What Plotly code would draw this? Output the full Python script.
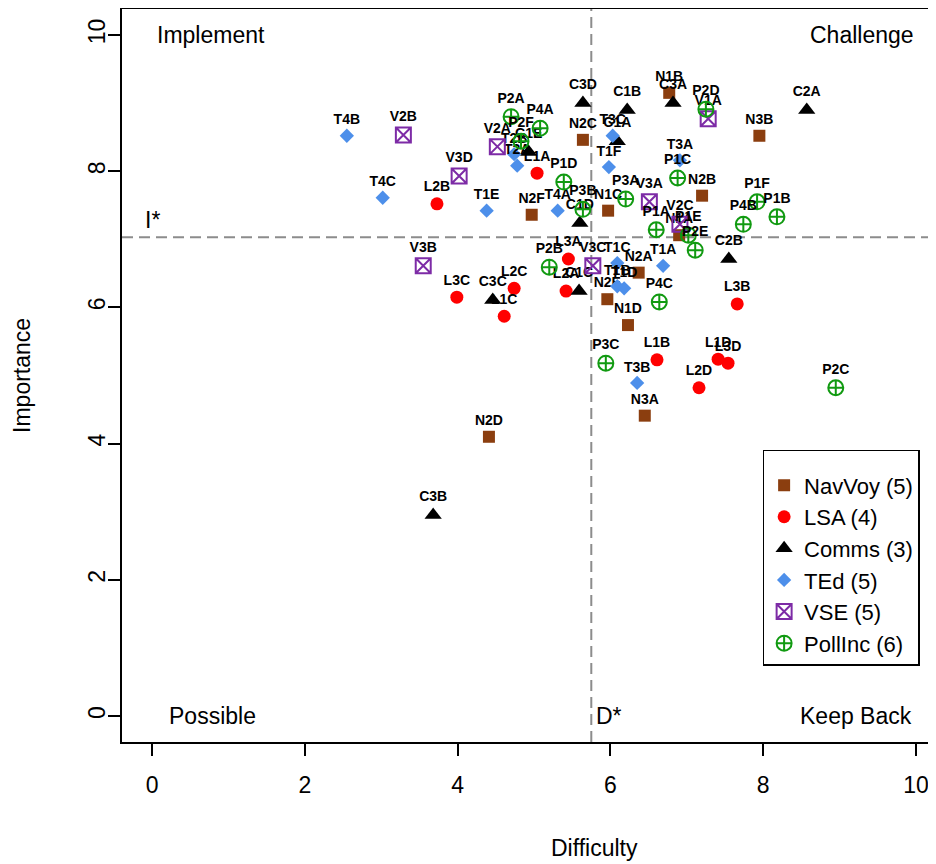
import plotly.graph_objects as go

# ---------------- data ----------------
nav_labels = ["N1A", "N1B", "N1C", "N1D", "N2A", "N2B", "N2C", "N2D", "N2E", "N2F", "N3A", "N3B"]
nav_x = [6.90, 6.77, 5.97, 6.23, 6.37, 7.20, 5.64, 4.41, 5.96, 4.97, 6.45, 7.95]
nav_y = [7.06, 9.15, 7.42, 5.74, 6.51, 7.64, 8.46, 4.10, 6.12, 7.36, 4.41, 8.52]

lsa_labels = ["L1A", "L1B", "L1C", "L1D", "L2A", "L2B", "L2C", "L2D", "L3A", "L3B", "L3C", "L3D"]
lsa_x = [5.04, 6.61, 4.61, 7.41, 5.42, 3.73, 4.74, 7.16, 5.45, 7.66, 3.99, 7.54]
lsa_y = [7.97, 5.23, 5.87, 5.24, 6.24, 7.52, 6.28, 4.82, 6.71, 6.05, 6.15, 5.18]

com_labels = ["C1A", "C1B", "C1C", "C1D", "C1E", "C2A", "C2B", "C3A", "C3B", "C3C", "C3D"]
com_x = [6.09, 6.22, 5.59, 5.60, 4.93, 8.57, 7.55, 6.82, 3.68, 4.46, 5.64]
com_y = [8.44, 8.90, 6.24, 7.24, 8.28, 8.90, 6.71, 9.00, 2.95, 6.11, 9.00]

ted_labels = ["T1A", "T1B", "T1C", "T1D", "T1E", "T1F", "T2A", "T2B", "T3A", "T3B", "T3C", "T4A", "T4B", "T4C"]
ted_x = [6.69, 6.09, 6.09, 6.18, 4.38, 5.98, 4.78, 4.74, 6.91, 6.35, 6.03, 5.31, 2.55, 3.02]
ted_y = [6.61, 6.31, 6.65, 6.28, 7.42, 8.06, 8.08, 8.25, 8.16, 4.89, 8.52, 7.42, 8.52, 7.61]

vse_labels = ["V1A", "V2A", "V2B", "V2C", "V3A", "V3B", "V3C", "V3D"]
vse_x = [7.28, 4.52, 3.29, 6.91, 6.51, 3.55, 5.77, 4.02]
vse_y = [8.77, 8.36, 8.53, 7.22, 7.55, 6.61, 6.61, 7.93]

pol_labels = ["P1A", "P1B", "P1C", "P1D", "P1E", "P1F", "P2A", "P2B", "P2C", "P2D", "P2E", "P2F",
              "P3A", "P3B", "P3C", "P4A", "P4B", "P4C"]
pol_x = [6.60, 8.18, 6.88, 5.39, 7.02, 7.92, 4.70, 5.20, 8.95, 7.25, 7.11, 4.83,
         6.20, 5.64, 5.94, 5.08, 7.74, 6.64]
pol_y = [7.14, 7.33, 7.90, 7.84, 7.06, 7.55, 8.80, 6.59, 4.82, 8.91, 6.84, 8.44,
         7.59, 7.44, 5.18, 8.63, 7.22, 6.08]

group_names = ["NavVoy (5)", "LSA (4)", "Comms (3)", "TEd (5)", "VSE (5)", "PollInc (6)"]

d_star = 5.75
i_star = 7.03

# ---------------- figure ----------------
FONT = "Liberation Sans, Arial, Helvetica, sans-serif"
FS = 23

styles = [
    dict(symbol="square", color="#8B3E0F", size=12, line=dict(width=0)),
    dict(symbol="circle", color="#FF0000", size=13, line=dict(width=0)),
    dict(symbol="triangle-up", color="#000000", size=15, line=dict(width=0)),
    dict(symbol="diamond", color="#4D8FEA", size=11, line=dict(width=0)),
    dict(symbol="square-x-open", color="#7D2BA6", size=15, line=dict(width=2, color="#7D2BA6")),
    dict(symbol="circle-cross-open", color="#119A11", size=15, line=dict(width=2, color="#119A11")),
]

groups = [
    (nav_labels, nav_x, nav_y),
    (lsa_labels, lsa_x, lsa_y),
    (com_labels, com_x, com_y),
    (ted_labels, ted_x, ted_y),
    (vse_labels, vse_x, vse_y),
    (pol_labels, pol_x, pol_y),
]

fig = go.Figure()

# reference dashed lines
fig.add_shape(type="line", x0=d_star, x1=d_star, y0=0, y1=1, xref="x", yref="paper",
              line=dict(color="#8C8C8C", width=2, dash="11px,6px"), layer="below")
fig.add_shape(type="line", x0=0, x1=1, y0=i_star, y1=i_star, xref="paper", yref="y",
              line=dict(color="#8C8C8C", width=2, dash="11px,6px"), layer="below")

for (labels, xs, ys), name, st in zip(groups, group_names, styles):
    fig.add_trace(go.Scatter(
        x=xs, y=ys, text=labels, name=name,
        mode="markers+text",
        textposition="top center",
        textfont=dict(family=FONT, size=14, color="black", weight="bold"),
        marker=dict(symbol=st["symbol"], color=st["color"], size=st["size"], line=st["line"]),
        cliponaxis=False,
    ))

# top border of the box (right side is cut off in the reference)
fig.add_shape(type="line", x0=0, x1=1, y0=1, y1=1, xref="paper", yref="paper",
              line=dict(color="black", width=2))

quad = [
    ("Implement", 0.04, 10.0, "left"),
    ("Challenge", 10.0, 10.0, "right"),
    ("Possible", 0.2, 0.0, "left"),
    ("Keep Back", 9.97, 0.0, "right"),
]
for txt, x, y, anc in quad:
    fig.add_annotation(x=x, y=y, text=txt, showarrow=False, xanchor=anc, yanchor="middle",
                       font=dict(family=FONT, size=FS, color="black"))

fig.add_annotation(x=d_star + 0.04, y=0.0, text="D*", showarrow=False, xanchor="left", yanchor="middle",
                   font=dict(family=FONT, size=FS, color="black"))
fig.add_annotation(x=-0.12, y=i_star + 0.04, text="I*", showarrow=False, xanchor="left", yanchor="bottom",
                   font=dict(family=FONT, size=FS, color="black"))

# axis titles
fig.add_annotation(x=0.581, y=-0.144, xref="paper", yref="paper", text="Difficulty", showarrow=False,
                   xanchor="center", yanchor="middle", font=dict(family=FONT, size=FS, color="black"))
fig.add_annotation(x=-0.1229, y=0.5, xref="paper", yref="paper", text="Importance", showarrow=False,
                   textangle=-90, xanchor="center", yanchor="middle",
                   font=dict(family=FONT, size=FS, color="black"))

# the page body adds an 8px offset; the figure is sized so the plot lands where the reference has it
fig.update_layout(
    width=928, height=856,
    margin=dict(l=114, r=0, t=0, b=122, autoexpand=False),
    plot_bgcolor="white", paper_bgcolor="white",
    showlegend=True,
    font=dict(family=FONT, size=FS, color="black"),
    legend=dict(x=0.787, y=0.398, xanchor="left", yanchor="top",
                bordercolor="black", borderwidth=1.5, bgcolor="white",
                font=dict(family=FONT, size=22, color="black"),
                title=dict(text=" ", font=dict(size=10)),
                itemsizing="trace", tracegroupgap=0),
)
fig.update_xaxes(range=[-0.393, 10.262], tickvals=[0, 2, 4, 6, 8, 10], showgrid=False, zeroline=False,
                 automargin=False,
                 showline=True, linecolor="black", linewidth=2, ticks="outside", ticklen=12,
                 tickwidth=1.5, tickcolor="black", ticklabelstandoff=9,
                 tickfont=dict(family=FONT, size=FS, color="black"))
fig.update_yaxes(range=[-0.382, 10.396], tickvals=[0, 2, 4, 6, 8, 10], showgrid=False, zeroline=False,
                 automargin=False,
                 showline=True, linecolor="black", linewidth=2, ticks="outside", ticklen=12,
                 tickwidth=1.5, tickcolor="black", tickangle=-90, ticklabelstandoff=-6,
                 tickfont=dict(family=FONT, size=FS, color="black"))

fig.write_html("out.html")
